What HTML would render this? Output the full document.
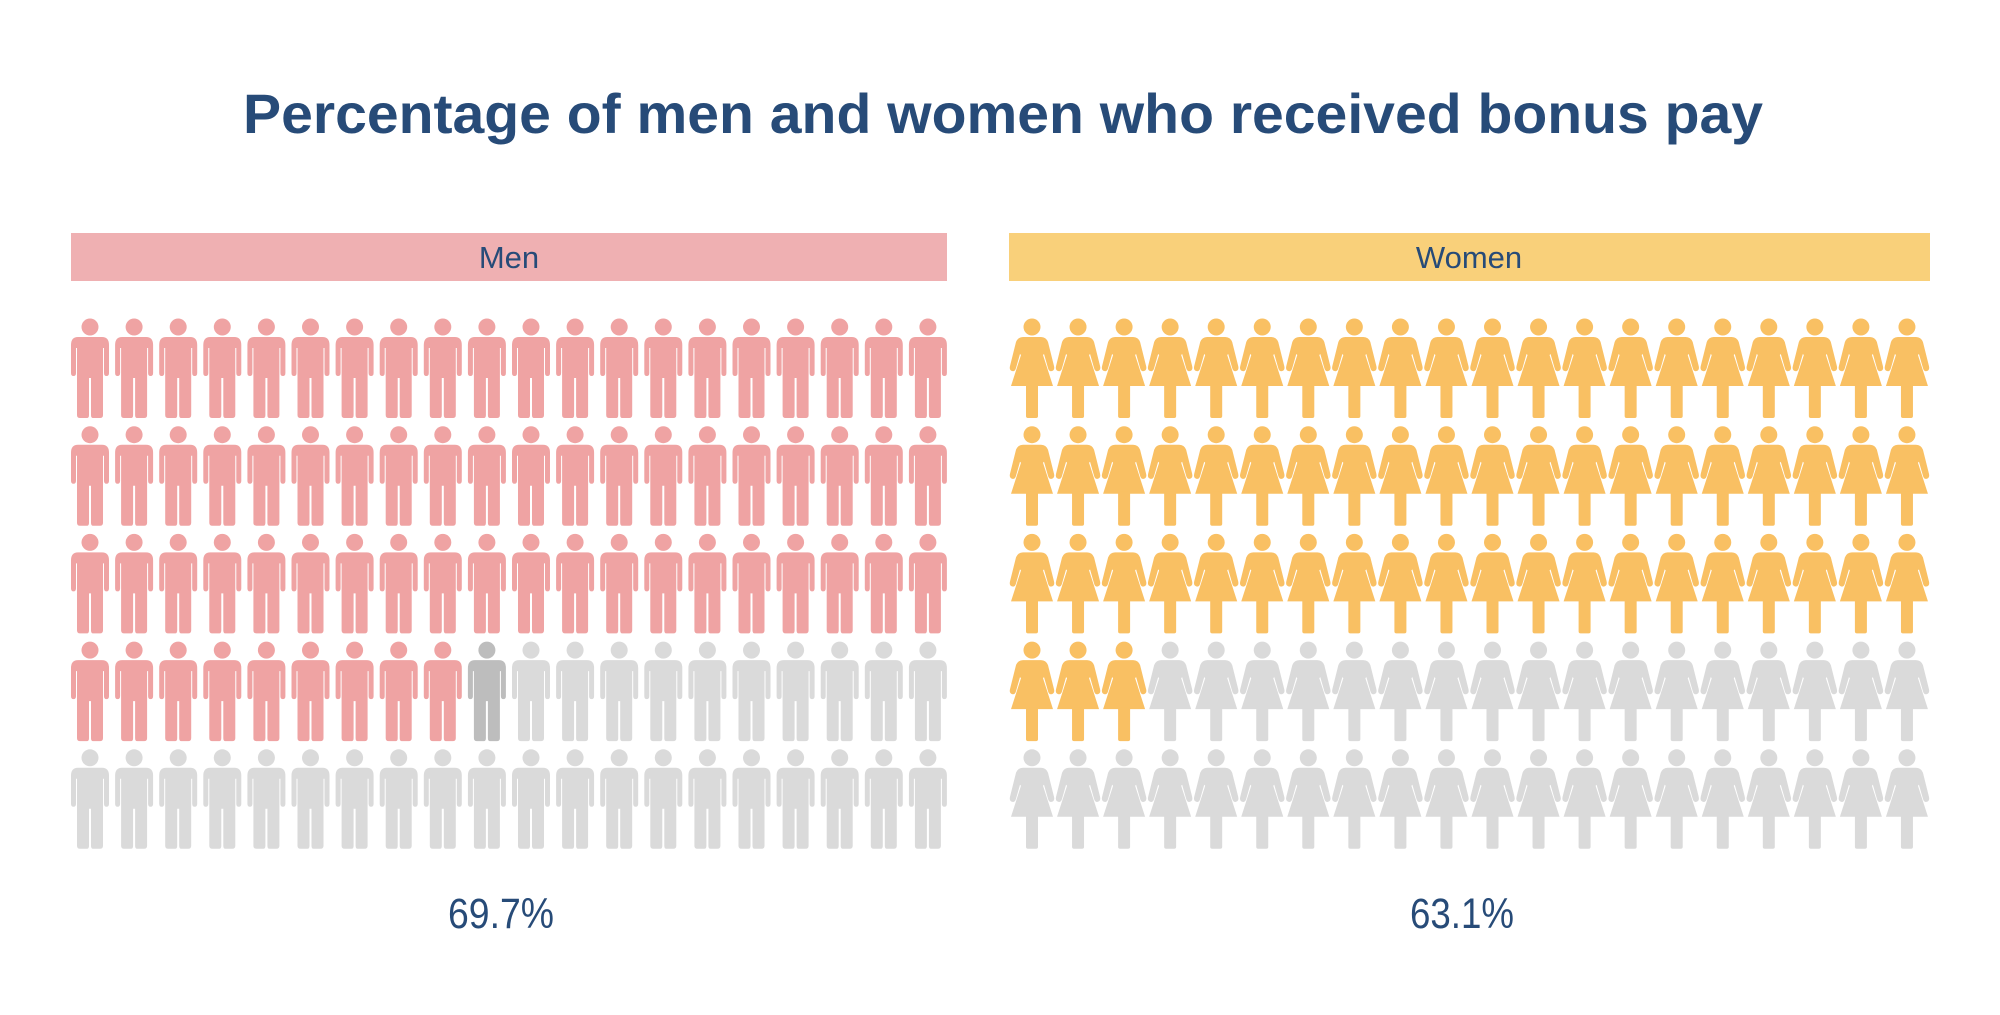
<!DOCTYPE html>
<html><head><meta charset="utf-8"><style>
html,body{margin:0;padding:0;background:#fff;}
svg{display:block;}
</style></head><body>
<svg id="chart" width="2000" height="1015" viewBox="0 0 2000 1015">
<text x="1003" y="133" text-anchor="middle" font-family="Liberation Sans, sans-serif" font-weight="bold" font-size="56" fill="#274B78" textLength="1520" lengthAdjust="spacingAndGlyphs">Percentage of men and women who received bonus pay</text>
<rect x="71" y="233" width="876" height="48" fill="#EFB0B2"/>
<text x="509" y="268" text-anchor="middle" font-family="Liberation Sans, sans-serif" font-size="31" fill="#274B78">Men</text>
<rect x="1009" y="233" width="921" height="48" fill="#F9D07A"/>
<text x="1469" y="268" text-anchor="middle" font-family="Liberation Sans, sans-serif" font-size="31" fill="#274B78">Women</text>
<g id="men"></g>
<g id="women"></g>
<text id="menPct" x="501" y="928" text-anchor="middle" font-family="Liberation Sans, sans-serif" font-size="43" fill="#274B78" textLength="106" lengthAdjust="spacingAndGlyphs"></text>
<text id="womenPct" x="1462" y="928" text-anchor="middle" font-family="Liberation Sans, sans-serif" font-size="43" fill="#274B78" textLength="104" lengthAdjust="spacingAndGlyphs"></text>
</svg>
<script>
const groups = ["Men", "Women"];
const percentages = [69.7, 63.1];
const iconsPerRow = 20;
const totalIcons = 100;

const NS = "http://www.w3.org/2000/svg";
function mk(tag, attrs, parent){const e=document.createElementNS(NS,tag);for(const k in attrs)e.setAttribute(k,attrs[k]);parent.appendChild(e);return e;}

function manShape(g, fill){
  mk('circle',{cx:0,cy:9,r:8.5,fill},g);
  mk('path',{d:'M-12,19 H12 Q19,19 19,27 V55 Q19,58 16.5,58 Q14,58 14,55 V30 H13 V97 Q13,100 10,100 H3 Q1,100 1,97 V60 H-1 V97 Q-1,100 -3,100 H-10 Q-13,100 -13,97 V30 H-14 V55 Q-14,58 -16.5,58 Q-19,58 -19,55 V27 Q-19,19 -12,19 Z',fill},g);
}
function womanShape(g, fill){
  mk('circle',{cx:0,cy:9,r:8.5,fill},g);
  mk('path',{d:'M-9,19 H9 Q14,19 16,24 L22,48 Q23,52 20,53 Q17,54 16,50 L12,36 L11,37 L21,68 H-21 L-11,37 L-12,36 L-16,50 Q-17,54 -20,53 Q-23,52 -22,48 L-16,24 Q-14,19 -9,19 Z',fill},g);
  mk('rect',{x:-6,y:66,width:12,height:34,rx:2,fill},g);
}

function grid(id, pct, x0, step, color, shape, nameBase){
  const parent=document.getElementById(id);
  const full=Math.floor(pct);
  const frac=pct-full;
  for(let i=0;i<totalIcons;i++){
    const col=i%iconsPerRow, row=Math.floor(i/iconsPerRow);
    let fill='#DADADA';
    if(i<full) fill=color;
    else if(i===full && frac>=0.5) fill='#BDBDBD';
    const g=mk('g',{transform:`translate(${x0+col*step},${318+row*107.7})`},parent);
    
    
    shape(g, fill);
  }
}
grid('men', percentages[0], 90, 44.1, '#EFA3A3', manShape, 'man');
grid('women', percentages[1], 1032, 46.05, '#F9C063', womanShape, 'woman');
document.getElementById('menPct').textContent=percentages[0].toFixed(1)+'%';
document.getElementById('womenPct').textContent=percentages[1].toFixed(1)+'%';
</script>
</body></html>
